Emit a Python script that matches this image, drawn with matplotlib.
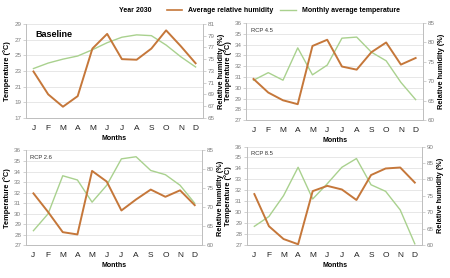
import matplotlib

matplotlib.use("Agg")
import matplotlib.pyplot as plt
from matplotlib.lines import Line2D

plt.rcParams["font.family"] = ["Liberation Sans", "DejaVu Sans"]

months = ["J", "F", "M", "A", "M", "J", "J", "A", "S", "O", "N", "D"]

# Baseline
base_temp = [23.3, 24.0, 24.5, 24.9, 25.7, 26.6, 27.3, 27.6, 27.5, 26.3, 24.8, 23.5]
base_hum = [72.9, 69.0, 66.9, 68.7, 76.8, 79.3, 75.0, 74.9, 76.8, 79.9, 77.2, 74.3]

# RCP 4.5
rcp45_temp = [30.7, 31.4, 30.7, 33.7, 31.2, 32.1, 34.6, 34.7, 33.3, 32.5, 30.5, 28.9]
rcp45_hum = [70.6, 67.1, 65.1, 64.1, 79.1, 80.7, 73.8, 73.0, 77.5, 80.0, 74.3, 76.0]

# RCP 2.6
rcp26_temp = [28.4, 30.0, 33.6, 33.2, 31.1, 32.7, 35.2, 35.4, 34.1, 33.7, 32.7, 31.0]
rcp26_hum = [73.7, 68.8, 63.5, 62.9, 79.6, 76.8, 69.2, 72.1, 74.7, 72.8, 74.5, 70.6]

# RCP 8.5
rcp85_temp = [28.7, 29.6, 31.5, 34.1, 31.2, 32.6, 34.1, 34.9, 32.5, 31.9, 30.2, 27.1]
rcp85_hum = [75.5, 65.7, 61.8, 60.2, 76.4, 78.0, 76.9, 73.7, 81.3, 83.3, 83.6, 79.0]

ORANGE = "#C5773A"
GREEN = "#A9D18E"
GRAY = "#7F7F7F"

panels = [
    # name, temps, hums, temp range, hum range, rect
    ("Baseline", base_temp, base_hum, (17, 29, 2), (65, 81, 2), [0.058, 0.576, 0.393, 0.338]),
    ("RCP 4.5", rcp45_temp, rcp45_hum, (27, 36, 1), (60, 85, 5), [0.547, 0.568, 0.393, 0.349]),
    ("RCP 2.6", rcp26_temp, rcp26_hum, (27, 36, 1), (60, 85, 5), [0.058, 0.117, 0.391, 0.342]),
    ("RCP 8.5", rcp85_temp, rcp85_hum, (27, 36, 1), (60, 90, 5), [0.549, 0.119, 0.389, 0.354]),
]

fig = plt.figure(figsize=(4.5, 2.78), dpi=100)

for name, temps, hums, trng, hrng, rect in panels:
    ax = fig.add_axes(rect)
    ax2 = ax.twinx()
    x = list(range(len(months)))

    ax.plot(x, temps, color=GREEN, lw=1.0, zorder=3)
    ax2.plot(x, hums, color=ORANGE, lw=1.4, zorder=3)

    ax.set_xlim(-0.5, 11.5)
    ax.set_ylim(trng[0], trng[1])
    ax.set_yticks(range(trng[0], trng[1] + 1, trng[2]))
    ax2.set_ylim(hrng[0], hrng[1])
    ax2.set_yticks(range(hrng[0], hrng[1] + 1, hrng[2]))

    ax.set_xticks(x)
    ax.set_xticklabels(months, fontsize=6, color="#222222")
    ax.grid(axis="y", color="#E3E3E3", lw=0.6)
    ax.set_axisbelow(True)

    for a in (ax, ax2):
        a.spines["top"].set_visible(False)
        for s in ("left", "right", "bottom"):
            a.spines[s].set_color("#BFBFBF")
            a.spines[s].set_linewidth(0.7)
        a.tick_params(axis="y", labelsize=4.5, labelcolor=GRAY, length=2,
                      width=0.5, color="#BFBFBF", pad=1.5)
    ax.tick_params(axis="x", length=0, pad=5)

    ax.set_ylabel("Temperature (°C)", fontsize=5.3, fontweight="bold", labelpad=2)
    ax2.set_ylabel("Relative humidity (%)", fontsize=5.3, fontweight="bold", labelpad=2)
    ax.set_xlabel("Months", fontsize=5, fontweight="bold", labelpad=2)

    if name == "Baseline":
        ax.text(0.05, 0.93, name, transform=ax.transAxes, fontsize=6.5,
                fontweight="bold", va="top", ha="left")
    else:
        ax.text(0.025, 0.95, name, transform=ax.transAxes, fontsize=4.2,
                va="top", ha="left", color="#333333")

fig.text(0.30, 0.962, "Year 2030", fontsize=5, fontweight="bold", ha="center", va="center")
handles = [
    Line2D([], [], color=ORANGE, lw=1.2),
    Line2D([], [], color=GREEN, lw=1.0),
]
fig.legend(handles, ["Average relative humidity", "Monthly average temperature"],
           loc="center left", bbox_to_anchor=(0.37, 0.962), ncol=2, frameon=False,
           prop={"size": 5, "weight": "bold"}, handlelength=2.2, columnspacing=1.0,
           handletextpad=0.9, borderpad=0, borderaxespad=0)

fig.savefig("out.png", dpi=100)
